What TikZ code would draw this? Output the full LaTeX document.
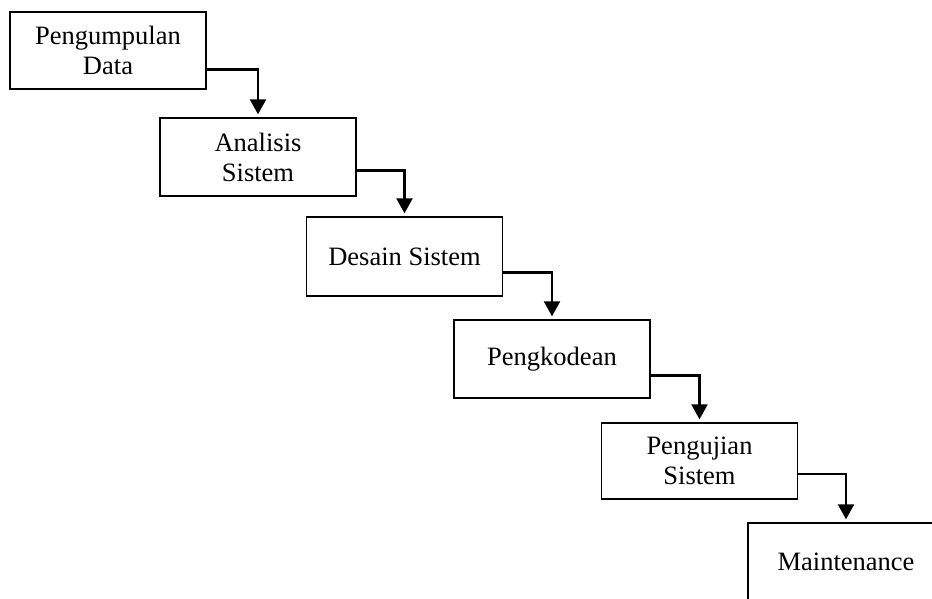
\documentclass[tikz,border=0pt]{standalone}
\usepackage{fontspec}
\setmainfont{Liberation Serif}
\usetikzlibrary{arrows.meta,calc}
\begin{document}
\begin{tikzpicture}[x=1pt,y=-1pt,
  stepbox/.style={draw=black,line width=1.4pt,fill=white,rectangle,minimum width=196pt,minimum height=78pt,inner sep=0pt,align=center,font=\fontsize{26.5}{30}\selectfont},
  flow/.style={line width=2.4pt,-{Triangle[width=16pt,length=15pt]},shorten >=3pt}]
\useasboundingbox (0,0) rectangle (932,599);
\clip (0,0) rectangle (932,599);
\node[stepbox,minimum height=77pt] (b1) at (108,50.5) {Pengumpulan\\Data};
\node[stepbox] (b2) at (258,157) {Analisis\\Sistem};
\node[stepbox,minimum height=79pt] (b3) at (404.5,256.5) {Desain Sistem};
\node[stepbox] (b4) at (552,359) {Pengkodean};
\node[stepbox,minimum height=76pt] (b5) at (699.5,461) {Pengujian\\Sistem};
\node[stepbox] (b6) at (846,562) {Maintenance};
\draw[flow] ($(b1.north east)!0.74!(b1.south east)$) -| (b2.north);
\draw[flow] ($(b2.north east)!0.67!(b2.south east)$) -| (b3.north);
\draw[flow] ($(b3.north east)!0.70!(b3.south east)$) -| (b4.north);
\draw[flow] ($(b4.north east)!0.71!(b4.south east)$) -| (b5.north);
\draw[flow] ($(b5.north east)!0.67!(b5.south east)$) -| (b6.north);
\end{tikzpicture}
\end{document}
